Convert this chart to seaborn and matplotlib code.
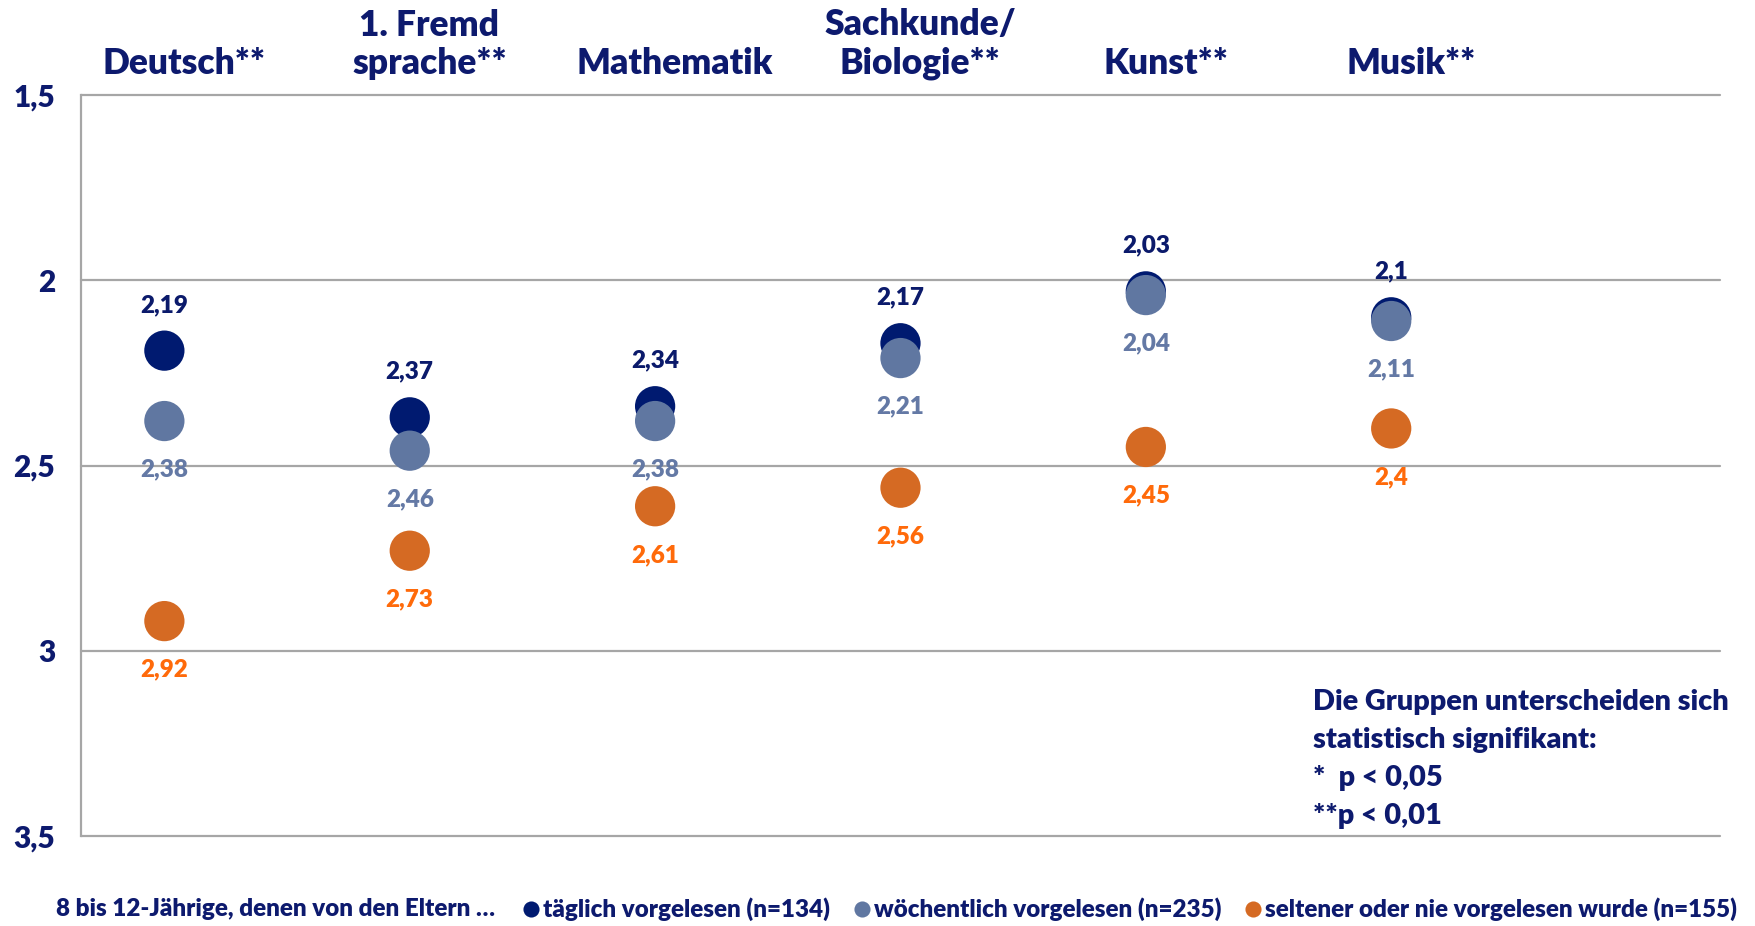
import matplotlib
matplotlib.use("Agg")
import pandas as pd
import matplotlib.pyplot as plt
import seaborn as sns

sns.set_style("white")
plt.rcParams['font.family'] = ['Lato', 'DejaVu Sans']
plt.rcParams['font.weight'] = 'heavy'
W = 'heavy'

subjects = ["Deutsch**", "1. Fremd\nsprache**", "Mathematik", "Sachkunde/\nBiologie**", "Kunst**", "Musik**"]
groups = ["täglich vorgelesen (n=134)", "wöchentlich vorgelesen (n=235)",
          "seltener oder nie vorgelesen wurde (n=155)"]
taeglich = [2.19, 2.37, 2.34, 2.17, 2.03, 2.10]
woechentlich = [2.38, 2.46, 2.38, 2.21, 2.04, 2.11]
seltener = [2.92, 2.73, 2.61, 2.56, 2.45, 2.40]
y_ticks = [1.5, 2.0, 2.5, 3.0, 3.5]
y_ticklabels = ["1,5", "2", "2,5", "3", "3,5"]
legend_prefix = "8 bis 12-Jährige, denen von den Eltern …"
note = "Die Gruppen unterscheiden sich\nstatistisch signifikant:\n*  p < 0,05\n**p < 0,01"

dot_colors = ["#001a70", "#6077a1", "#d56a23"]
label_colors = ["#0b1a6b", "#6479a5", "#ff6a0a"]
label_offsets = [33, -35, -35]  # points, positive = above the dot
navy = "#0d1a6e"
grey = "#a6a6a6"

# long table, navy first so the lighter dots sit on top
rows = []
for g, vals in zip(groups, [taeglich, woechentlich, seltener]):
    for s, v in zip(subjects, vals):
        rows.append({"Fach": s, "Gruppe": g, "Note": v})
df = pd.DataFrame(rows)

fig, ax = plt.subplots(figsize=(17.56, 9.26), dpi=100)
fig.subplots_adjust(left=0.0461, right=0.9795, bottom=0.0972, top=0.8974)

sns.scatterplot(data=df, x="Fach", y="Note", hue="Gruppe", hue_order=groups,
                palette=dot_colors, s=840, linewidth=0, alpha=1, ax=ax)

ax.set_xlim(-0.34, 6.34)
ax.set_ylim(3.5, 1.5)
ax.set_yticks(y_ticks)
ax.set_yticklabels(y_ticklabels, fontsize=21.5, color=navy, fontweight=W)
ax.set_xlabel("")
ax.set_ylabel("")
ax.tick_params(axis='x', length=0, labelbottom=False)
ax.tick_params(axis='y', length=6.5, width=1.5, color=grey, pad=12)

ax.yaxis.grid(True, color=grey, lw=1.6)
for gl in ax.get_ygridlines():
    gl.set_clip_on(False)
ax.set_axisbelow(True)
for side in ["top", "right", "bottom"]:
    ax.spines[side].set_visible(False)
ax.spines["left"].set_color(grey)
ax.spines["left"].set_linewidth(1.6)

# value labels
for g, vals, col, off in zip(groups, [taeglich, woechentlich, seltener], label_colors, label_offsets):
    for i, v in enumerate(vals):
        ax.annotate(f"{v:g}".replace(".", ","), (i, v), xytext=(0, off),
                    textcoords="offset points", ha="center", va="center",
                    fontsize=17.5, color=col, fontweight=W)

# subject headers above the plot
for i, s in enumerate(subjects):
    ax.text(i + 0.08, 1.02, s, transform=ax.get_xaxis_transform(), ha="center",
            va="bottom", fontsize=25.5, color=navy, fontweight=W, linespacing=1.2)

fig.text(0.748, 0.256, note, ha="left", va="top", fontsize=20.8, color=navy,
         fontweight=W, linespacing=1.58)

# legend row at the bottom
fig.text(0.032, 0.018, legend_prefix, ha="left", va="center", fontsize=17.4,
         color=navy, fontweight=W)
sns.move_legend(ax, "center left", bbox_to_anchor=(0.297, 0.018),
                bbox_transform=fig.transFigure, ncol=3, frameon=False, title=None,
                markerscale=0.4, handletextpad=0.1, columnspacing=0.9,
                handlelength=0.8, borderpad=0, borderaxespad=0, fontsize=17.4)
for t in ax.get_legend().get_texts():
    t.set_color(navy)
    t.set_fontweight(W)

fig.savefig("out.png", dpi=100)
